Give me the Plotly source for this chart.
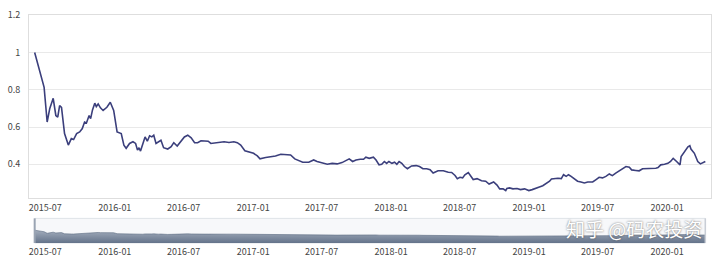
import plotly.graph_objects as go

# ---- data ----
dates = [
    "2015-06-03", "2015-06-28", "2015-07-06", "2015-07-13", "2015-07-22", "2015-07-29", "2015-08-03",
    "2015-08-08", "2015-08-13", "2015-08-21", "2015-08-31", "2015-09-08", "2015-09-14", "2015-09-22",
    "2015-09-30", "2015-10-07", "2015-10-13", "2015-10-18", "2015-10-25", "2015-10-29", "2015-11-03",
    "2015-11-09", "2015-11-13", "2015-11-18", "2015-11-24", "2015-12-01", "2015-12-11", "2015-12-20",
    "2015-12-29", "2016-01-07", "2016-01-18", "2016-01-25", "2016-01-31", "2016-02-09", "2016-02-18",
    "2016-02-25", "2016-03-01", "2016-03-05", "2016-03-09", "2016-03-15", "2016-03-21", "2016-03-27",
    "2016-04-02", "2016-04-08", "2016-04-13", "2016-04-19", "2016-04-25", "2016-05-02", "2016-05-09",
    "2016-05-20", "2016-05-29", "2016-06-05", "2016-06-14", "2016-06-22", "2016-07-03", "2016-07-12",
    "2016-07-21", "2016-07-30", "2016-08-07", "2016-08-16", "2016-08-24", "2016-09-04", "2016-09-11",
    "2016-09-24", "2016-10-03", "2016-10-16", "2016-10-29", "2016-11-11", "2016-11-20", "2016-11-29",
    "2016-12-10", "2016-12-21", "2017-01-02", "2017-01-12", "2017-01-19", "2017-02-03", "2017-02-16",
    "2017-03-01", "2017-03-15", "2017-03-28", "2017-04-10", "2017-04-21", "2017-05-02", "2017-05-12",
    "2017-05-28", "2017-06-10", "2017-06-19", "2017-07-02", "2017-07-16", "2017-07-29", "2017-08-11",
    "2017-08-24", "2017-09-02", "2017-09-12", "2017-09-21", "2017-09-30", "2017-10-11", "2017-10-20",
    "2017-10-26", "2017-11-04", "2017-11-15", "2017-11-22", "2017-11-30", "2017-12-07", "2017-12-14",
    "2017-12-20", "2017-12-26", "2018-01-03", "2018-01-10", "2018-01-16", "2018-01-22", "2018-01-29",
    "2018-02-05", "2018-02-13", "2018-02-24", "2018-03-08", "2018-03-17", "2018-03-26", "2018-04-05",
    "2018-04-14", "2018-04-22", "2018-05-05", "2018-05-19", "2018-06-01", "2018-06-10", "2018-06-19",
    "2018-06-25", "2018-07-02", "2018-07-09", "2018-07-15", "2018-07-24", "2018-07-30", "2018-08-06",
    "2018-08-16", "2018-08-28", "2018-09-08", "2018-09-17", "2018-09-29", "2018-10-08", "2018-10-15",
    "2018-10-24", "2018-10-31", "2018-11-03", "2018-11-10", "2018-11-19", "2018-11-30", "2018-12-09",
    "2018-12-20", "2018-12-31", "2019-01-09", "2019-01-20", "2019-01-28", "2019-02-06", "2019-02-15",
    "2019-02-24", "2019-03-01", "2019-03-09", "2019-03-18", "2019-03-27", "2019-04-02", "2019-04-09",
    "2019-04-15", "2019-04-22", "2019-05-01", "2019-05-09", "2019-05-18", "2019-05-27", "2019-06-05",
    "2019-06-18", "2019-06-27", "2019-07-05", "2019-07-14", "2019-07-23", "2019-08-01", "2019-08-09",
    "2019-08-18", "2019-08-27", "2019-09-05", "2019-09-14", "2019-09-23", "2019-09-29", "2019-10-10",
    "2019-10-19", "2019-10-28", "2019-11-05", "2019-11-18", "2019-12-02", "2019-12-08", "2019-12-15",
    "2019-12-25", "2020-01-03", "2020-01-10", "2020-01-17", "2020-01-26", "2020-02-04", "2020-02-07",
    "2020-02-16", "2020-02-25", "2020-03-01", "2020-03-04", "2020-03-13", "2020-03-22", "2020-03-29",
    "2020-04-05", "2020-04-11",
]
nav = [
    1.000, 0.813, 0.627, 0.700, 0.754, 0.662, 0.653,
    0.715, 0.706, 0.565, 0.503, 0.538, 0.533, 0.565,
    0.574, 0.592, 0.627, 0.622, 0.662, 0.645, 0.692,
    0.728, 0.710, 0.724, 0.703, 0.689, 0.706, 0.733,
    0.689, 0.574, 0.565, 0.503, 0.486, 0.512, 0.521,
    0.512, 0.476, 0.489, 0.471, 0.512, 0.547, 0.524,
    0.553, 0.547, 0.556, 0.512, 0.521, 0.529, 0.489,
    0.482, 0.494, 0.516, 0.498, 0.521, 0.547, 0.556,
    0.542, 0.516, 0.516, 0.526, 0.524, 0.524, 0.512,
    0.516, 0.516, 0.521, 0.517, 0.521, 0.516, 0.503,
    0.473, 0.467, 0.459, 0.445, 0.429, 0.436, 0.438,
    0.444, 0.454, 0.450, 0.450, 0.429, 0.420, 0.411,
    0.411, 0.423, 0.415, 0.409, 0.400, 0.405, 0.402,
    0.409, 0.418, 0.429, 0.415, 0.423, 0.427, 0.427,
    0.438, 0.432, 0.438, 0.423, 0.397, 0.400, 0.415,
    0.405, 0.415, 0.405, 0.411, 0.400, 0.415, 0.405,
    0.388, 0.376, 0.391, 0.393, 0.388, 0.376, 0.376,
    0.371, 0.353, 0.365, 0.365, 0.357, 0.356, 0.340,
    0.323, 0.330, 0.327, 0.344, 0.356, 0.335, 0.318,
    0.323, 0.312, 0.309, 0.294, 0.305, 0.288, 0.268,
    0.268, 0.259, 0.270, 0.273, 0.268, 0.270, 0.264,
    0.268, 0.259, 0.264, 0.270, 0.278, 0.285, 0.296,
    0.309, 0.321, 0.323, 0.325, 0.323, 0.344, 0.335,
    0.344, 0.335, 0.323, 0.309, 0.305, 0.300, 0.305,
    0.305, 0.318, 0.330, 0.327, 0.335, 0.348, 0.339,
    0.353, 0.365, 0.379, 0.388, 0.384, 0.370, 0.367,
    0.365, 0.376, 0.376, 0.379, 0.379, 0.382, 0.397,
    0.400, 0.405, 0.415, 0.432, 0.415, 0.397, 0.441,
    0.468, 0.494, 0.500, 0.482, 0.459, 0.415, 0.402,
    0.409, 0.415,
]
y_ticks = [0.4, 0.6, 0.8, 1.0, 1.2]
y_tick_text = ["0.4", "0.6", "0.8", "1", "1.2"]
watermark = "知乎 @码农投资"

# ---- styling ----
LINE = "#3b3f7c"
GRID = "#e9e9e9"
FRAME = "#dedede"
LABEL = "#444444"
FONT = "Noto Sans CJK SC, Noto Sans, sans-serif"
X_RANGE = ["2015-05-19", "2020-04-26"]
Y_RANGE = [0.221, 1.2015]
Y2_RANGE = [-0.56, 2.44]

fig = go.Figure()

# main line
fig.add_trace(go.Scatter(
    x=dates, y=nav, mode="lines",
    line=dict(color=LINE, width=1.6),
    xaxis="x", yaxis="y", showlegend=False, hoverinfo="x+y",
))

# slider data shadow: baseline + filled area
fig.add_trace(go.Scatter(
    x=[dates[0], dates[-1]], y=[Y2_RANGE[0], Y2_RANGE[0]], mode="lines",
    line=dict(width=0, color="rgba(0,0,0,0)"),
    xaxis="x2", yaxis="y2", showlegend=False, hoverinfo="skip",
))
fig.add_trace(go.Scatter(
    x=dates, y=nav, mode="lines", fill="tonexty",
    line=dict(color="#5d6c82", width=0.6),
    fillgradient=dict(type="vertical",
                      colorscale=[[0, "#64738a"], [1, "#a3adbc"]]),
    xaxis="x2", yaxis="y2", showlegend=False, hoverinfo="skip",
))

fig.update_layout(
    width=720, height=266,
    margin=dict(l=27, r=8, t=15, b=20),
    paper_bgcolor="white", plot_bgcolor="white",
    font=dict(family=FONT, size=9, color=LABEL),
    xaxis=dict(
        domain=[0, 1], anchor="y", type="date", range=X_RANGE,
        tick0="2015-07-01", dtick="M6", tickformat="%Y-%m",
        showgrid=False, zeroline=False,
        showline=True, linecolor=FRAME, linewidth=1, mirror=True,
        ticks="", ticklabelstandoff=2,
        tickfont=dict(size=9, color=LABEL),
    ),
    yaxis=dict(
        domain=[0.199, 1], anchor="x", range=Y_RANGE,
        tickvals=y_ticks, ticktext=y_tick_text,
        showgrid=True, gridcolor=GRID, gridwidth=1, zeroline=False,
        showline=True, linecolor=FRAME, linewidth=1, mirror=True,
        ticks="", ticklabelstandoff=6,
        tickfont=dict(size=9, color=LABEL),
    ),
    xaxis2=dict(
        domain=[0, 1], anchor="y2", type="date", range=X_RANGE,
        tick0="2015-07-01", dtick="M6", tickformat="%Y-%m",
        showgrid=False, zeroline=False, showline=False,
        ticks="", ticklabelstandoff=2,
        tickfont=dict(size=9, color=LABEL),
    ),
    yaxis2=dict(
        domain=[0, 0.108], anchor="x2", range=Y2_RANGE,
        showgrid=False, zeroline=False, showline=False,
        showticklabels=False, ticks="",
    ),
    shapes=[
        # slider frame
        dict(type="rect", xref="x2", yref="y2 domain",
             x0=dates[0], x1=dates[-1], y0=0, y1=1,
             fillcolor="rgba(200,208,220,0.15)",
             line=dict(color="#dfe3e8", width=1), layer="below"),
        # handles
        dict(type="line", xref="x2", yref="y2 domain",
             x0=dates[0], x1=dates[0], y0=0, y1=1,
             line=dict(color="#9aa4b3", width=2)),
        dict(type="line", xref="x2", yref="y2 domain",
             x0=dates[-1], x1=dates[-1], y0=0, y1=1,
             line=dict(color="#c9ced6", width=1.5)),
    ],
    annotations=[
        dict(text=watermark, xref="paper", yref="paper",
             x=0.99, y=-0.006, xanchor="right", yanchor="bottom",
             showarrow=False,
             font=dict(family="Noto Sans CJK SC", size=19, color="white",
                       shadow="0px 0px 2px rgba(60,60,60,0.8)")),
    ],
)

fig.write_html("out.html")
